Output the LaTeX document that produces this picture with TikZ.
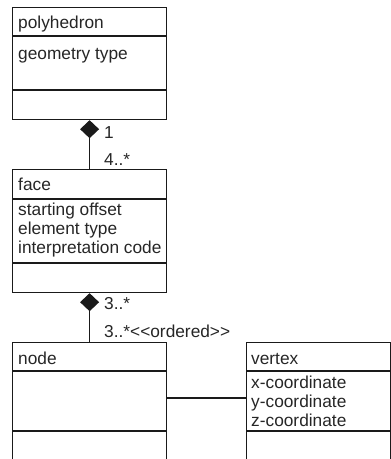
\documentclass[tikz,border=0pt]{standalone}
\usepackage{fontspec}
\setmainfont{Liberation Sans}
\usetikzlibrary{arrows.meta, positioning, calc}
\definecolor{uline}{HTML}{1A1A1A}
\definecolor{utext}{HTML}{262626}
\tikzset{
  x=1pt, y=-1pt,
  font=\fontsize{17.3}{20}\selectfont,
  classbox/.style={
    draw=uline, line width=1.2pt, inner sep=0pt, anchor=north west,
    minimum width=154pt
  },
  divider/.style={draw=uline, line width=1.2pt},
  cname/.style={text=utext, inner sep=0pt, anchor=base west},
  attr/.style={text=utext, inner sep=0pt, anchor=base west},
  mult/.style={text=utext, inner sep=0pt, anchor=base west},
  comp/.style={{Diamond[length=18pt,width=19pt]}-, draw=uline, line width=1.2pt},
  assoc/.style={draw=uline, line width=1.2pt}
}
\begin{document}
\begin{tikzpicture}
  \useasboundingbox (0,0) rectangle (391,459);
  \clip (0,0) rectangle (391,459);

  % classes
  \node[classbox, minimum height=112pt] (poly) at (12,7) {};
  \draw[divider] ($(poly.north west)+(0,29)$) -- ($(poly.north east)+(0,29)$);
  \draw[divider] ($(poly.north west)+(0,83)$) -- ($(poly.north east)+(0,83)$);
  \node[cname] (polyname) at (18,28) {polyhedron};
  \node[attr] (polyattr) at (18,59) {geometry type};

  \node[classbox, minimum height=123pt] (face) at (12,169) {};
  \draw[divider] ($(face.north west)+(0,30)$) -- ($(face.north east)+(0,30)$);
  \draw[divider] ($(face.north west)+(0,94)$) -- ($(face.north east)+(0,94)$);
  \node[cname] (facename) at (18,190) {face};
  \foreach \t [count=\i] in {starting offset, element type, interpretation code}
    \node[attr] (faceattr\i) at (18,{215+19.2*(\i-1)}) {\t};

  \node[classbox, minimum height=140pt] (node) at (12,342) {};
  \draw[divider] ($(node.north west)+(0,29)$) -- ($(node.north east)+(0,29)$);
  \draw[divider] ($(node.north west)+(0,89)$) -- ($(node.north east)+(0,89)$);
  \node[cname] (nodename) at (18,364) {node};

  \node[classbox, minimum width=144pt, minimum height=140pt] (vertex) at (246,342) {};
  \draw[divider] ($(vertex.north west)+(0,29)$) -- ($(vertex.north east)+(0,29)$);
  \draw[divider] ($(vertex.north west)+(0,89)$) -- ($(vertex.north east)+(0,89)$);
  \node[cname] (vertexname) at (251,364) {vertex};
  \foreach \t [count=\i] in {x-coordinate, y-coordinate, z-coordinate}
    \node[attr] (vertexattr\i) at (251,{388+19*(\i-1)}) {\t};

  % associations
  \draw[comp] (poly.south) -- (face.north);
  \node[mult] (m1) at (104,138) {1};
  \node[mult] (m2) at (104,165) {4..*};
  \draw[comp] (face.south) -- (node.north);
  \node[mult] (m3) at (104,309) {3..*};
  \node[mult] (m4) at (104,337) {3..*<\kern0pt<ordered>\kern0pt>};
  \coordinate (link) at (0,398);
  \draw[assoc] (node.east |- link) -- (vertex.west |- link);
\end{tikzpicture}
\end{document}
